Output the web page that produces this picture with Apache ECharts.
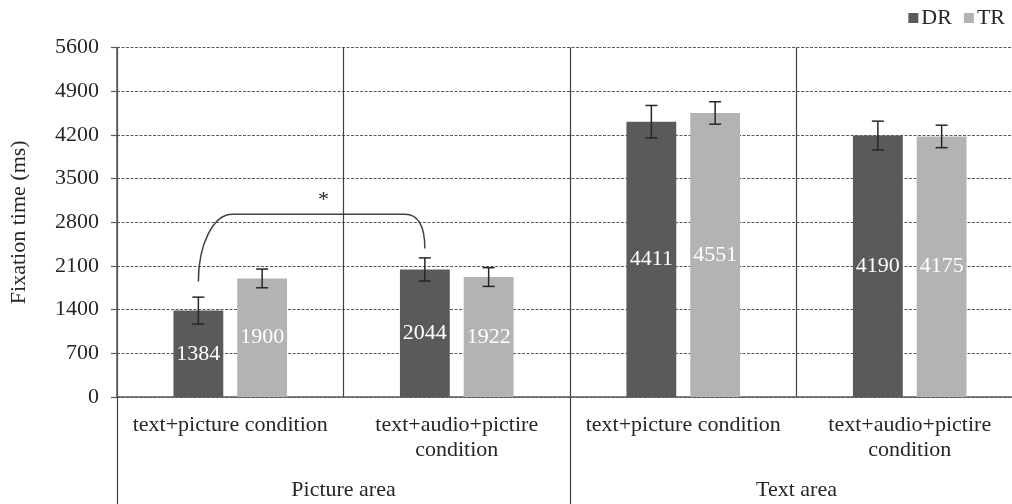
<!DOCTYPE html>
<html><head><meta charset="utf-8">
<script src="https://cdn.jsdelivr.net/npm/echarts@6.0.0/dist/echarts.min.js"></script>
<style>html,body{margin:0;padding:0;background:#fff}#c{width:1012px;height:504px}</style>
</head><body><div id="c"></div>
<script>
// ---- data ----
const categories = ['text+picture condition', 'text+audio+pictire\ncondition', 'text+picture condition', 'text+audio+pictire\ncondition'];
const areas = ['Picture area', 'Text area'];
const seriesNames = ['DR', 'TR'];
const drValues = [1384, 2044, 4411, 4190];
const trValues = [1900, 1922, 4551, 4175];
const drErrors = [216, 185, 260, 230];
const trErrors = [150, 150, 180, 180];
const yMin = 0, yMax = 5600, yInterval = 700;
// significance bracket: [categoryIndex, value] of the two DR ends, and bracket height value
const bracketStart = [0, 1850];
const bracketEnd = [1, 2380];
const bracketTop = [2930];
const bracketLabel = '*';

// ---- styles ----
const FONT = 'Liberation Serif, "Times New Roman", serif';
const TXT = '#262626';
const AX = '#595959';
const DR_COLOR = '#5a5a5a';
const TR_COLOR = '#b3b3b3';
const BAR_W = 0.22, BAR_GAP = 0.28;
const OFF = (BAR_W + BAR_W * BAR_GAP) / 2; // centre offset as fraction of category width
const FS = 22;

function errSeries(values, errs, sign) {
  return {
    type: 'custom', xAxisIndex: 0, yAxisIndex: 0, z: 5, silent: true,
    data: values.map((v, i) => [i, v - errs[i], v + errs[i]]),
    renderItem: function (params, api) {
      const i = api.value(0);
      const lo = api.coord([i, api.value(1)]);
      const hi = api.coord([i, api.value(2)]);
      const cw = api.size([1, 0])[0];
      const x = lo[0] + sign * cw * OFF;
      const cap = 6;
      const st = { stroke: '#262626', lineWidth: 1.5 };
      return { type: 'group', children: [
        { type: 'line', shape: { x1: x, y1: lo[1], x2: x, y2: hi[1] }, style: st },
        { type: 'line', shape: { x1: x - cap, y1: lo[1], x2: x + cap, y2: lo[1] }, style: st },
        { type: 'line', shape: { x1: x - cap, y1: hi[1], x2: x + cap, y2: hi[1] }, style: st }
      ]};
    }
  };
}

const option = {
  animation: false,
  backgroundColor: '#fff',
  textStyle: { fontFamily: FONT, color: TXT },
  legend: {
    data: seriesNames, right: 2, top: 2, itemWidth: 10, itemHeight: 10, itemGap: 12, icon: 'rect',
    textStyle: { fontFamily: FONT, fontSize: FS, color: TXT, padding: [0, 0, 0, -2] }
  },
  grid: { left: 117, top: 47.5, width: 906, bottom: 107, outerBoundsMode: 'none', containLabel: false },
  xAxis: [
    {
      type: 'category', data: categories, position: 'bottom',
      axisLine: { show: true, lineStyle: { color: AX, width: 1.5 } },
      axisTick: { show: false },
      splitLine: { show: true, lineStyle: { color: '#404040', width: 1.2, type: 'solid' } },
      axisLabel: { interval: 0, margin: 16, fontFamily: FONT, fontSize: FS, lineHeight: 25, color: TXT }
    },
    {
      type: 'category', data: areas, position: 'bottom',
      axisLine: { show: false },
      axisTick: { show: true, length: 110, lineStyle: { color: '#404040', width: 1.2 } },
      splitLine: { show: false },
      axisLabel: { interval: 0, margin: 82, fontFamily: FONT, fontSize: FS, color: TXT }
    }
  ],
  yAxis: {
    type: 'value', min: yMin, max: yMax, interval: yInterval,
    name: 'Fixation time (ms)', nameLocation: 'middle', nameGap: 87,
    nameTextStyle: { fontFamily: FONT, fontSize: FS, color: TXT },
    axisLine: { show: true, lineStyle: { color: AX, width: 1.5 } },
    axisTick: { show: true, length: 6, lineStyle: { color: AX, width: 1.2 } },
    axisLabel: { margin: 18, fontFamily: FONT, fontSize: FS, color: TXT, formatter: function (v) { return String(v); } },
    splitLine: { show: true, lineStyle: { color: AX, width: 1, type: [3, 1.5] } }
  },
  series: [
    {
      name: 'DR', type: 'bar', data: drValues, barWidth: (BAR_W * 100) + '%', barGap: (BAR_GAP * 100) + '%',
      itemStyle: { color: DR_COLOR },
      label: { show: true, position: 'inside', color: '#fff', fontFamily: FONT, fontSize: FS }
    },
    {
      name: 'TR', type: 'bar', data: trValues, barWidth: (BAR_W * 100) + '%', barGap: (BAR_GAP * 100) + '%',
      itemStyle: { color: TR_COLOR },
      label: { show: true, position: 'inside', color: '#fff', fontFamily: FONT, fontSize: FS }
    },
    errSeries(drValues, drErrors, -1),
    errSeries(trValues, trErrors, 1),
    {
      type: 'custom', z: 6, silent: true, clip: false,
      data: [[bracketStart[0], bracketStart[1], bracketEnd[0], bracketEnd[1], bracketTop[0]]],
      renderItem: function (params, api) {
        const cw = api.size([1, 0])[0];
        const a = api.coord([api.value(0), api.value(1)]);
        const b = api.coord([api.value(2), api.value(3)]);
        const yt = api.coord([api.value(0), api.value(4)])[1];
        const x0 = a[0] - cw * OFF, y0 = a[1];
        const x1 = b[0] - cw * OFF, y1 = b[1];
        const d = 'M' + x0 + ' ' + y0 +
          ' C' + x0 + ' ' + (yt + 30) + ' ' + (x0 + 15) + ' ' + yt + ' ' + (x0 + 34) + ' ' + yt +
          ' L' + (x1 - 20) + ' ' + yt +
          ' C' + (x1 - 6) + ' ' + yt + ' ' + x1 + ' ' + (yt + 12) + ' ' + x1 + ' ' + y1;
        return { type: 'group', children: [
          { type: 'path', shape: { pathData: d }, style: { stroke: '#404040', lineWidth: 1.5, fill: null } },
          { type: 'text', style: { text: bracketLabel, x: (x0 + x1) / 2 + 12, y: yt - 3,
              align: 'center', verticalAlign: 'bottom', fontFamily: FONT, fontSize: FS, fill: TXT } }
        ]};
      }
    }
  ]
};
const chart = echarts.init(document.getElementById('c'), null, { renderer: 'canvas' });
chart.setOption(option);
</script>
</body></html>
